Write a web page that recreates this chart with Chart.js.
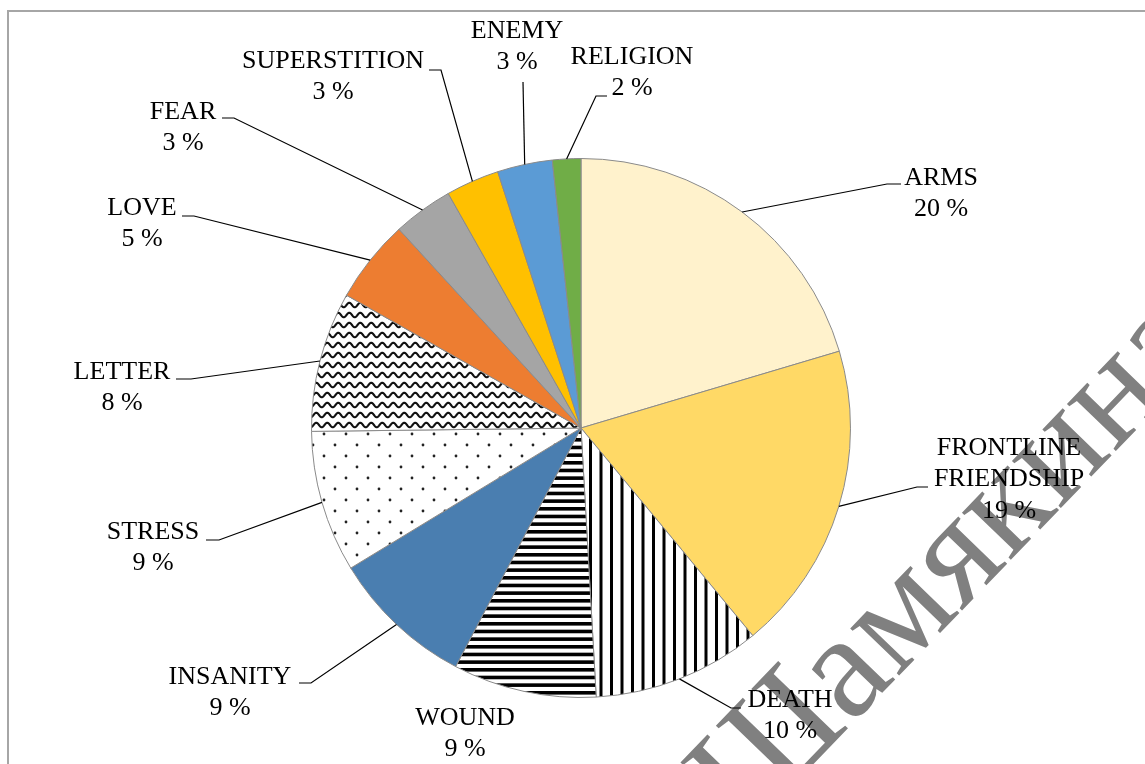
<!DOCTYPE html>
<html>
<head>
<meta charset="utf-8">
<script src="https://cdn.jsdelivr.net/npm/chart.js@4.4.0/dist/chart.umd.min.js"></script>
<style>
  html, body { margin: 0; padding: 0; background: #fff; overflow: hidden; }
  #wrap { position: relative; width: 1145px; height: 764px; overflow: hidden; }
  #frame { position: absolute; left: 7px; top: 10px; width: 1300px; height: 900px;
           border-left: 2px solid #a6a6a6; border-top: 2px solid #a6a6a6; }
  #wm { position: absolute; left: 945px; top: 556px; transform: translate(-50%, -50%) rotate(-46deg);
        font: 148px "Liberation Serif", "Times New Roman", serif; color: #808080;
        white-space: nowrap; line-height: 1; }
  #chart { position: absolute; left: 0; top: 0; }
</style>
</head>
<body>
<div id="wrap">
  <div id="frame"></div>
  <div id="wm">Шамякина</div>
  <canvas id="chart" width="1145" height="764"></canvas>
</div>
<script>
// данные диаграммы (по часовой стрелке от 12 часов)
const CATEGORIES = ['ARMS', 'FRONTLINE FRIENDSHIP', 'DEATH', 'WOUND', 'INSANITY', 'STRESS',
  'LETTER', 'LOVE', 'FEAR', 'SUPERSTITION', 'ENEMY', 'RELIGION'];
const SHARES = [20.4, 18.6, 10.1, 8.6, 8.6, 8.5, 8.4, 5.0, 3.6, 3.2, 3.3, 1.7];
const PCT_LABELS = ['20 %', '19 %', '10 %', '9 %', '9 %', '9 %', '8 %', '5 %', '3 %', '3 %', '3 %', '2 %'];

// размещение подписей относительно центра круга:
// [центр текста x, y первой строки, излом x, излом y, конец полочки x]
const LABEL_POS = [
  [360, -250, 306, -244, 320],
  [428, 20, 336, 59, 347],
  [209, 272, 150, 280, 160],
  [-116, 290, null, null, null],
  [-351, 249, -270, 255, -282],
  [-428, 104, -362, 112, -375],
  [-459, -56, -390, -49, -405],
  [-439, -220, -387, -212, -399],
  [-398, -316, -347, -310, -359],
  [-248, -367, -140, -358, -152],
  [-64, -397, -58, -346, -58],
  [51, -371, 15, -332, 26]
];

// штриховки
function makePattern(w, h, draw) {
  const c = document.createElement('canvas');
  c.width = w; c.height = h;
  const g = c.getContext('2d');
  g.fillStyle = '#fff';
  g.fillRect(0, 0, w, h);
  draw(g);
  return document.getElementById('chart').getContext('2d').createPattern(c, 'repeat');
}

const vStripes = makePattern(21, 10, g => {
  g.fillStyle = '#000';
  g.fillRect(1, 0, 3, 10);
  g.fillRect(11.5, 0, 3, 10);
});
const hStripes = makePattern(10, 23, g => {
  g.fillStyle = '#000';
  [0, 7.67, 15.33].forEach(y => g.fillRect(0, y + 1, 10, 3.6));
});
const dots = makePattern(22, 22, g => {
  g.fillStyle = '#222';
  [[5, 5], [16, 16]].forEach(([x, y]) => {
    g.beginPath(); g.arc(x, y, 1.4, 0, Math.PI * 2); g.fill();
  });
});
const waves = makePattern(11, 10, g => {
  g.strokeStyle = '#111';
  g.lineWidth = 2.1;
  g.beginPath();
  for (let x = -2; x <= 13; x += 0.5) {
    const y = 5 + 2.3 * Math.sin(2 * Math.PI * x / 11);
    if (x === -2) g.moveTo(x, y); else g.lineTo(x, y);
  }
  g.stroke();
});

const COLORS = ['#FFF2CC', '#FFD966', vStripes, hStripes, '#4A7EB0', dots,
  waves, '#ED7D31', '#A5A5A5', '#FFC000', '#5B9BD5', '#70AD47'];

// подписи с выносками
const outerLabels = {
  id: 'outerLabels',
  afterDatasetsDraw(chart) {
    const ctx = chart.ctx;
    const arcs = chart.getDatasetMeta(0).data;
    ctx.save();
    ctx.font = '26px "Liberation Serif", "Times New Roman", serif';
    ctx.textAlign = 'center';
    ctx.textBaseline = 'middle';
    ctx.fillStyle = '#000';
    ctx.strokeStyle = '#000';
    ctx.lineWidth = 1.2;
    arcs.forEach((arc, i) => {
      const { x, y, startAngle, endAngle, outerRadius } =
        arc.getProps(['x', 'y', 'startAngle', 'endAngle', 'outerRadius'], true);
      const p = LABEL_POS[i];
      if (p[2] !== null) {
        const mid = (startAngle + endAngle) / 2;
        ctx.beginPath();
        ctx.moveTo(x + Math.cos(mid) * outerRadius, y + Math.sin(mid) * outerRadius);
        ctx.lineTo(x + p[2], y + p[3]);
        ctx.lineTo(x + p[4], y + p[3]);
        ctx.stroke();
      }
      const name = CATEGORIES[i];
      const lines = (name.length > 14 ? name.split(' ') : [name]).concat(PCT_LABELS[i]);
      lines.forEach((t, k) => ctx.fillText(t, x + p[0], y + p[1] + k * 31.5));
    });
    ctx.restore();
  }
};

new Chart(document.getElementById('chart'), {
  type: 'pie',
  data: {
    labels: CATEGORIES,
    datasets: [{
      data: SHARES,
      backgroundColor: COLORS,
      borderColor: '#8a8a8a',
      borderWidth: 1
    }]
  },
  options: {
    responsive: false,
    animation: false,
    layout: { padding: { left: 311, right: 294, top: 158, bottom: 66 } },
    plugins: { legend: { display: false }, tooltip: { enabled: false } }
  },
  plugins: [outerLabels]
});
</script>
</body>
</html>
